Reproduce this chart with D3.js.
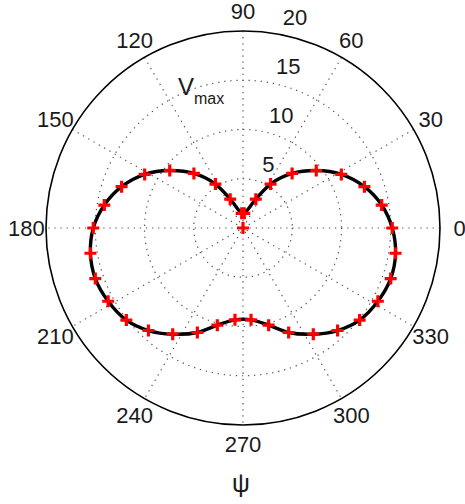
<!DOCTYPE html>
<html>
<head>
<meta charset="utf-8">
<script src="https://cdn.jsdelivr.net/npm/d3@7"></script>
<style>
  body { margin: 0; background: #fff; }
  svg text { font-family: "Liberation Sans", Arial, sans-serif; fill: #1a1a1a; }
</style>
</head>
<body>
<div id="chart"></div>
<script>
// DATA
const angleTicks = [0, 30, 60, 90, 120, 150, 180, 210, 240, 270, 300, 330];
const radialTicks = [5, 10, 15, 20];

// marker positions: psi (deg) and Vmax
const psiDeg = [0, 9.4, 18.8, 28.6, 38.1, 48, 57.9, 66, 85,
  95, 114, 122.1, 132, 141.9, 151.4, 161.2, 170.6, 180,
  189.4, 198.9, 208.5, 218.3, 227.3, 236.5, 246.4, 255.2, 265,
  275, 284.8, 293.6, 303.5, 312.7, 321.7, 331.5, 341.1, 350.6];
const vmaxVal = [15.15, 14.27, 13.02, 11.37, 9.45, 7.45, 5.27, 3.2, 1.5,
  1.5, 3.2, 5.27, 7.45, 9.45, 11.37, 13.02, 14.27, 15.2,
  15.7, 15.85, 15.58, 15.09, 14.16, 12.93, 11.58, 10.2, 9.36,
  9.36, 10.2, 11.58, 12.93, 14.16, 15.09, 15.58, 15.85, 15.7];
// extra marker sitting at the origin
const originPoint = [{psi: 90, v: 0}];

// CHART
const svgWidth = 465, svgHeight = 504;
const cx = 243, cy = 228, R = 197;
const rMax = 20;

const svg = d3.select("#chart").append("svg")
  .attr("width", svgWidth)
  .attr("height", svgHeight);

const g = svg.append("g").attr("transform", `translate(${cx},${cy})`);

const rScale = d3.scaleLinear().domain([0, rMax]).range([0, R]);
const rad = d => d * Math.PI / 180;
const px = (psi, v) => [rScale(v) * Math.cos(rad(psi)), -rScale(v) * Math.sin(rad(psi))];

// dotted grid
const gridStyle = sel => sel
  .attr("fill", "none")
  .attr("stroke", "#555")
  .attr("stroke-width", 1.2)
  .attr("stroke-dasharray", "1.3,4.8");

g.selectAll("circle.grid")
  .data(radialTicks.filter(t => t < rMax))
  .enter().append("circle")
  .attr("class", "grid")
  .attr("r", d => rScale(d))
  .call(gridStyle);

g.selectAll("line.spoke")
  .data(angleTicks.filter(a => a < 180))
  .enter().append("line")
  .attr("class", "spoke")
  .attr("x1", d => px(d, rMax)[0])
  .attr("y1", d => px(d, rMax)[1])
  .attr("x2", d => px(d + 180, rMax)[0])
  .attr("y2", d => px(d + 180, rMax)[1])
  .call(gridStyle);

// outer circle
g.append("circle")
  .attr("r", rScale(rMax))
  .attr("fill", "none")
  .attr("stroke", "#000")
  .attr("stroke-width", 1.6);

// angle labels
g.selectAll("text.angle")
  .data(angleTicks)
  .enter().append("text")
  .attr("class", "angle")
  .attr("x", d => px(d, rMax * 1.1)[0])
  .attr("y", d => px(d, rMax * 1.1)[1])
  .attr("text-anchor", "middle")
  .attr("dominant-baseline", "central")
  .attr("font-size", 22)
  .text(d => d);

// radial labels at 82 degrees
g.selectAll("text.radial")
  .data(radialTicks)
  .enter().append("text")
  .attr("class", "radial")
  .attr("x", d => px(82, d + 0.25)[0] + 12)
  .attr("y", d => px(82, d + 0.25)[1] - 5)
  .attr("font-size", 22)
  .text(d => d);

// curve
const points = psiDeg.map((p, i) => ({psi: p, v: vmaxVal[i]}));

const line = d3.lineRadial()
  .angle(d => Math.PI / 2 - rad(d.psi))
  .radius(d => rScale(d.v))
  .curve(d3.curveCatmullRomClosed.alpha(0.5));

g.append("path")
  .datum(points)
  .attr("d", line)
  .attr("fill", "none")
  .attr("stroke", "#000")
  .attr("stroke-width", 3.4);

// red plus markers
const plusSize = 6;
g.selectAll("path.marker")
  .data(points.concat(originPoint))
  .enter().append("path")
  .attr("class", "marker")
  .attr("transform", d => `translate(${px(d.psi, d.v)[0]},${px(d.psi, d.v)[1]})`)
  .attr("d", `M${-plusSize},0H${plusSize}M0,${-plusSize}V${plusSize}`)
  .attr("stroke", "#ff0000")
  .attr("stroke-width", 3.2);

// labels
const vLabel = svg.append("text")
  .attr("x", 178)
  .attr("y", 95)
  .attr("font-size", 24);
vLabel.append("tspan").text("V");
vLabel.append("tspan").attr("font-size", 16).attr("dy", 9).text("max");

svg.append("text")
  .attr("x", 241)
  .attr("y", 492)
  .attr("text-anchor", "middle")
  .attr("font-size", 25)
  .text("ψ");
</script>
</body>
</html>
